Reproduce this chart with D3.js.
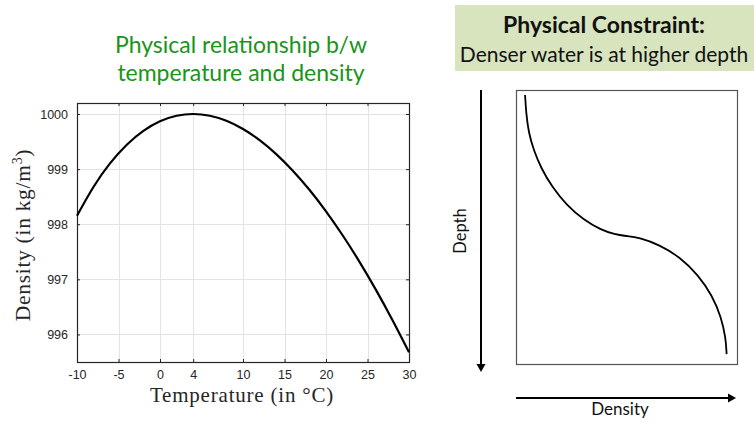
<!DOCTYPE html>
<html>
<head>
<meta charset="utf-8">
<script src="https://cdn.jsdelivr.net/npm/d3@7"></script>
<style>
  html, body { margin: 0; padding: 0; background: #fff; }
  svg { display: block; }
</style>
</head>
<body>
<svg id="fig" width="754" height="423"></svg>
<script>
// Density of water vs temperature (kg/m^3)
const temperature = [-10, -8, -6, -4, -2, 0, 2, 4, 6, 8, 10, 12, 14, 16, 18, 20, 22, 24, 26, 28, 30];
const density = [998.155, 998.681, 999.108, 999.443, 999.694, 999.868, 999.968, 1000.000,
                 999.968, 999.877, 999.728, 999.526, 999.273, 998.972, 998.625, 998.234,
                 997.800, 997.327, 996.814, 996.264, 995.679];
const temperatureTicks = [-10, -5, 0, 4, 10, 15, 20, 25, 30];
const densityTicks = [996, 997, 998, 999, 1000];

// Schematic stable profile: density (x) against depth (y), both in relative units
const profileDensity = [4.1, 4.6, 5.7, 8.0, 11.4, 16.4, 22.9, 30.6, 38.3, 44.7,
                        49.8, 55.6, 64.9, 74.2, 82.4, 88.8, 92.9, 94.9, 95.3];
const profileDepth = [1.8, 8.5, 15.5, 22.0, 28.6, 35.5, 42.0, 47.4, 51.0, 52.7,
                      53.3, 53.8, 56.5, 61.0, 67.5, 75.0, 83.0, 90.5, 96.4];

const titleLines = ["Physical relationship b/w", "temperature and density"];
const boxLines = ["Physical Constraint:", "Denser water is at higher depth"];

const svg = d3.select("#fig");
const sans = "Lato, 'Open Sans', sans-serif";
const serif = "'Liberation Serif', 'DejaVu Serif', serif";
const axisColor = "#262626";

// ---------- left panel: temperature / density ----------
const L = { left: 77, right: 409, top: 103, bottom: 362 };
const x = d3.scaleLinear().domain([-10, 30]).range([L.left, L.right]);
const y = d3.scaleLinear().domain([995.5, 1000.2]).range([L.bottom, L.top]);

const left = svg.append("g");

// grid
left.append("g").selectAll("line").data(temperatureTicks.slice(1, -1)).join("line")
  .attr("x1", d => Math.round(x(d)) + 0.5).attr("x2", d => Math.round(x(d)) + 0.5)
  .attr("y1", L.top).attr("y2", L.bottom)
  .attr("stroke", "#e3e3e3").attr("stroke-width", 1);
left.append("g").selectAll("line").data(densityTicks).join("line")
  .attr("y1", d => Math.round(y(d)) + 0.5).attr("y2", d => Math.round(y(d)) + 0.5)
  .attr("x1", L.left).attr("x2", L.right)
  .attr("stroke", "#e3e3e3").attr("stroke-width", 1);

// axes (ticks pointing inward, mirrored on top and right)
const tickLen = 3;
const plain = d => String(d);
const styleAxis = (g) => {
  g.select(".domain").remove();
  g.selectAll(".tick line").attr("stroke", axisColor);
  g.selectAll(".tick text").attr("fill", axisColor)
    .style("font-family", "'Liberation Sans', Arial, sans-serif").style("font-size", "12.5px");
};
left.append("g").attr("transform", `translate(0,${L.bottom})`)
  .call(d3.axisBottom(x).tickValues(temperatureTicks).tickSize(-tickLen).tickPadding(8)
    .tickFormat(plain))
  .call(styleAxis);
left.append("g").attr("transform", `translate(0,${L.top})`)
  .call(d3.axisTop(x).tickValues(temperatureTicks).tickSize(-tickLen).tickFormat(""))
  .call(styleAxis);
left.append("g").attr("transform", `translate(${L.left},0)`)
  .call(d3.axisLeft(y).tickValues(densityTicks).tickSize(-tickLen).tickPadding(9)
    .tickFormat(plain))
  .call(styleAxis);
left.append("g").attr("transform", `translate(${L.right},0)`)
  .call(d3.axisRight(y).tickValues(densityTicks).tickSize(-tickLen).tickFormat(""))
  .call(styleAxis);

// frame
left.append("rect")
  .attr("x", L.left + 0.5).attr("y", L.top + 0.5)
  .attr("width", L.right - L.left).attr("height", L.bottom - L.top)
  .attr("fill", "none").attr("stroke", axisColor).attr("stroke-width", 1.2);

// density curve
const pts = temperature.map((t, i) => [t, density[i]]);
left.append("path").datum(pts)
  .attr("d", d3.line().x(d => x(d[0])).y(d => y(d[1])).curve(d3.curveNatural))
  .attr("fill", "none").attr("stroke", "#000").attr("stroke-width", 2.2);

// axis labels
left.append("text")
  .attr("x", (L.left + L.right) / 2 - 1).attr("y", 401.5)
  .attr("text-anchor", "middle")
  .style("font-family", serif).style("font-size", "21px").style("letter-spacing", "0.8px")
  .attr("fill", axisColor)
  .text("Temperature (in \u00B0C)");

const yl = left.append("text")
  .attr("transform", "translate(30,235) rotate(-90)")
  .attr("text-anchor", "middle")
  .style("font-family", serif).style("font-size", "21.5px").style("letter-spacing", "0.7px")
  .attr("fill", axisColor);
yl.append("tspan").text("Density (in kg/m");
yl.append("tspan").attr("dy", -8).style("font-size", "14px").text("3");
yl.append("tspan").attr("dy", 8).text(")");

// green title
svg.append("g").selectAll("text").data(titleLines).join("text")
  .attr("x", 241).attr("y", (d, i) => 53 + i * 28)
  .attr("text-anchor", "middle")
  .style("font-family", sans).style("font-size", "23px").attr("fill", "#19941a")
  .text(d => d);

// ---------- right panel: depth / density schematic ----------
const R = { left: 516, right: 737, top: 90, bottom: 364 };
const px = d3.scaleLinear().domain([0, 100]).range([R.left, R.right]);
const py = d3.scaleLinear().domain([0, 100]).range([R.top, R.bottom]);

const right = svg.append("g");

// header box
right.append("rect")
  .attr("x", 455).attr("y", 5).attr("width", 299).attr("height", 66)
  .attr("fill", "#d8e4be");
right.append("text")
  .attr("x", 604).attr("y", 33).attr("text-anchor", "middle")
  .style("font-family", sans).style("font-weight", "bold").style("font-size", "23px")
  .attr("fill", "#111").text(boxLines[0]);
right.append("text")
  .attr("x", 604).attr("y", 62).attr("text-anchor", "middle")
  .style("font-family", sans).style("font-size", "21px")
  .attr("fill", "#111").text(boxLines[1]);

// frame
right.append("rect")
  .attr("x", R.left + 0.5).attr("y", R.top + 0.5)
  .attr("width", R.right - R.left).attr("height", R.bottom - R.top)
  .attr("fill", "none").attr("stroke", "#555").attr("stroke-width", 1.2);

// profile curve
const prof = profileDensity.map((d, i) => [d, profileDepth[i]]);
right.append("path").datum(prof)
  .attr("d", d3.line().x(d => px(d[0])).y(d => py(d[1])).curve(d3.curveBasis))
  .attr("fill", "none").attr("stroke", "#000").attr("stroke-width", 1.8);

// depth arrow (downwards)
const ax = 481;
right.append("line")
  .attr("x1", ax).attr("x2", ax).attr("y1", R.top).attr("y2", R.bottom + 2)
  .attr("stroke", "#000").attr("stroke-width", 2);
right.append("path")
  .attr("d", `M${ax - 4.5},${R.bottom}L${ax + 4.5},${R.bottom}L${ax},${R.bottom + 8}Z`)
  .attr("fill", "#000");

// density arrow (rightwards)
const ay = 398;
right.append("line")
  .attr("x1", R.left).attr("x2", R.right - 8).attr("y1", ay).attr("y2", ay)
  .attr("stroke", "#000").attr("stroke-width", 2);
right.append("path")
  .attr("d", `M${R.right - 9},${ay - 4.5}L${R.right - 9},${ay + 4.5}L${R.right - 1},${ay}Z`)
  .attr("fill", "#000");

right.append("text")
  .attr("transform", "translate(466,231) rotate(-90)")
  .attr("text-anchor", "middle")
  .style("font-family", sans).style("font-size", "16.5px").attr("fill", "#111")
  .text("Depth");
right.append("text")
  .attr("x", 620).attr("y", 415).attr("text-anchor", "middle")
  .style("font-family", sans).style("font-size", "17px").attr("fill", "#111")
  .text("Density");
</script>
</body>
</html>
